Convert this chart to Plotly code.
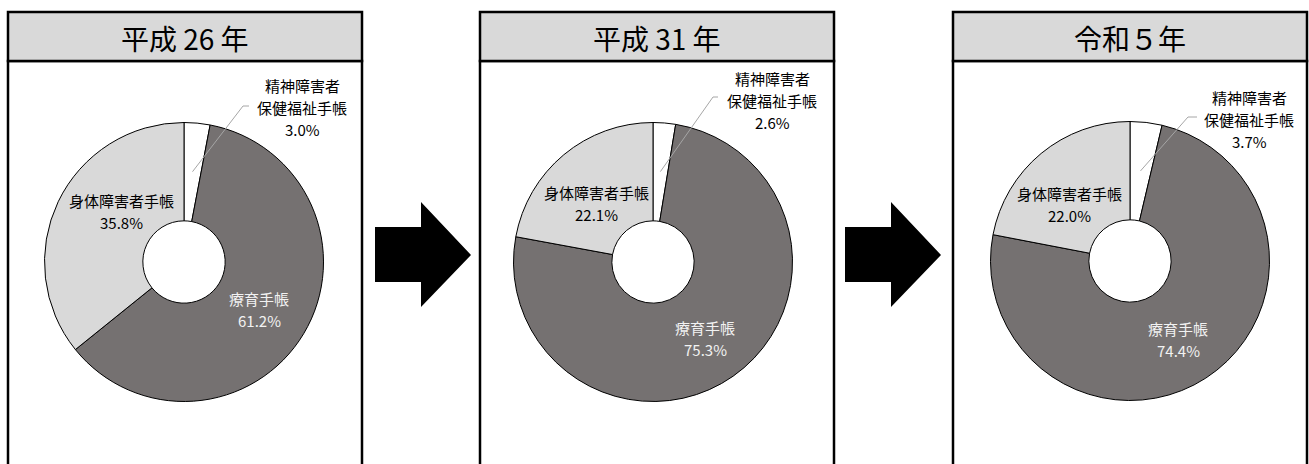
import math
import plotly.graph_objects as go

W, H = 1309, 464

# ---- data -------------------------------------------------------------
years = ["平成 26 年", "平成 31 年", "令和５年"]
categories = ["精神障害者保健福祉手帳", "療育手帳", "身体障害者手帳"]
label_lines = [["精神障害者", "保健福祉手帳"], ["療育手帳"], ["身体障害者手帳"]]
share_h26 = [3.0, 61.2, 35.8]
share_h31 = [2.6, 75.3, 22.1]
share_r5 = [3.7, 74.4, 22.0]
shares = [share_h26, share_h31, share_r5]

# ---- styling / layout (pixel units, origin top-left) ----------------------
slice_colors = ["#FFFFFF", "#757171", "#D9D9D9"]
label_colors = ["#000000", "#F2F2F2", "#000000"]
FONT = "Noto Sans CJK JP"
LABEL_SIZE = 15
LINE_GAP = 22

panels_x = [(8, 362), (480, 834), (953, 1307)]
header_y = (12, 61)
pie_centers = [(184, 262), (653, 262), (1130, 261)]
R = 139.5
HOLE = 0.295

# first-line positions of each label block: small slice (outside), large, medium
small_label_pos = [(302, 85), (772, 78), (1249, 97)]
small_elbow = [((249, 106), (243, 106)), ((718, 97), (713, 97)), ((1197, 117), (1188, 117))]
mid_label_pos = [(259, 298), (705, 327), (1178, 328)]
big_label_pos = [(121, 200), (596, 192), (1069, 193)]

arrow_x0 = [375, 845]


def px_to_paper_x(x):
    return x / W


def px_to_paper_y(y):
    return 1 - y / H


fig = go.Figure()

shapes = []
annotations = []

for i, (vals, year) in enumerate(zip(shares, years)):
    cx, cy = pie_centers[i]
    fig.add_trace(go.Pie(
        labels=categories,
        values=vals,
        sort=False,
        direction="clockwise",
        rotation=0,
        hole=HOLE,
        textinfo="none",
        hoverinfo="label+percent",
        marker=dict(colors=slice_colors, line=dict(color="#000000", width=1)),
        domain=dict(
            x=[px_to_paper_x(cx - R), px_to_paper_x(cx + R)],
            y=[px_to_paper_y(cy + R), px_to_paper_y(cy - R)],
        ),
        showlegend=False,
    ))

    x0, x1 = panels_x[i]
    # body frame
    shapes.append(dict(type="rect", xref="x", yref="y", x0=x0, x1=x1,
                       y0=header_y[1], y1=H + 20, fillcolor="#FFFFFF",
                       line=dict(color="#000000", width=2.5), layer="below"))
    # header frame
    shapes.append(dict(type="rect", xref="x", yref="y", x0=x0, x1=x1,
                       y0=header_y[0], y1=header_y[1], fillcolor="#D9D9D9",
                       line=dict(color="#000000", width=2.5), layer="below"))
    annotations.append(dict(
        x=(x0 + x1) / 2, y=(header_y[0] + header_y[1]) / 2 + 1,
        xref="x", yref="y", text=year, showarrow=False,
        xanchor="center", yanchor="middle",
        font=dict(family=FONT, size=28, color="#000000"),
    ))

    # labels: name line(s) followed by the share
    total = sum(vals)
    pos = [small_label_pos[i], mid_label_pos[i], big_label_pos[i]]
    for k in range(3):
        lx, ly = pos[k]
        lines = label_lines[k] + [f"{vals[k]:.1f}%"]
        for j, line in enumerate(lines):
            annotations.append(dict(
                x=lx, y=ly + j * LINE_GAP, xref="x", yref="y",
                text=line, showarrow=False,
                xanchor="center", yanchor="middle",
                font=dict(family=FONT, size=LABEL_SIZE, color=label_colors[k]),
            ))

    # leader line for the smallest slice: points at its mid-angle
    mid_angle = math.radians(vals[0] / total * 360 / 2)
    rr = 0.65 * R
    tx = cx + rr * math.sin(mid_angle)
    ty = cy - rr * math.cos(mid_angle)
    (ax, ay), (bx, by) = small_elbow[i]
    shapes.append(dict(type="path", xref="x", yref="y",
                       path=f"M{ax},{ay} L{bx},{by} L{tx:.1f},{ty:.1f}",
                       line=dict(color="#A6A6A6", width=1), layer="above"))

# block arrows between panels
for ax0 in arrow_x0:
    path = (f"M{ax0},227 L{ax0 + 46},227 L{ax0 + 46},202 L{ax0 + 96},255 "
            f"L{ax0 + 46},307 L{ax0 + 46},282 L{ax0},282 Z")
    shapes.append(dict(type="path", xref="x", yref="y", path=path,
                       fillcolor="#000000", line=dict(color="#000000", width=0)))

fig.update_layout(
    width=W, height=H,
    margin=dict(l=0, r=0, t=0, b=0),
    paper_bgcolor="#FFFFFF", plot_bgcolor="#FFFFFF",
    xaxis=dict(range=[0, W], visible=False, domain=[0, 1], fixedrange=True),
    yaxis=dict(range=[H, 0], visible=False, domain=[0, 1], fixedrange=True),
    shapes=shapes,
    annotations=annotations,
    showlegend=False,
)

fig.write_html("out.html")
